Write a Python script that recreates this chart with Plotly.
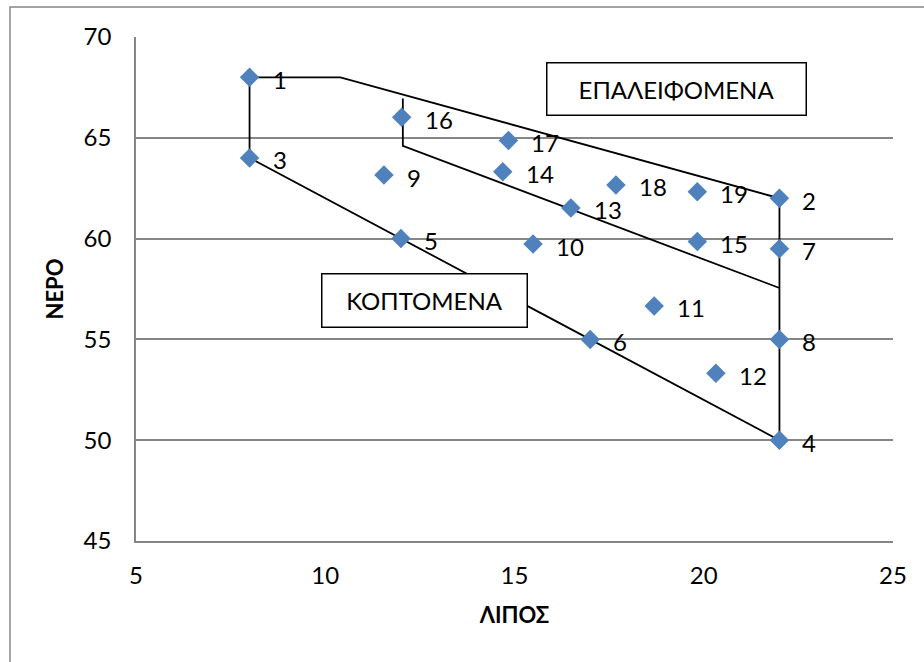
import plotly.graph_objects as go

# Samples: fat content (ΛΙΠΟΣ) vs water content (ΝΕΡΟ)
sample_ids = [str(i) for i in range(1, 20)]
fat = [8.0, 22.0, 8.0, 22.0, 12.0, 17.0, 22.0, 22.0, 11.55, 15.49,
       18.69, 20.32, 16.49, 14.69, 19.83, 12.02, 14.84, 17.68, 19.83]
water = [68.0, 62.0, 64.0, 50.0, 60.0, 55.0, 59.5, 55.0, 63.15, 59.73,
         56.66, 53.32, 61.52, 63.32, 59.85, 66.02, 64.86, 62.66, 62.33]

# Outline enclosing all samples
outline_x = [8.0, 8.0, 10.4, 22.0, 22.0, 8.0]
outline_y = [64.0, 68.0, 68.0, 62.0, 50.0, 64.0]

# Divider between the two product groups
divider_x = [12.05, 12.05, 22.0]
divider_y = [66.95, 64.6, 57.55]

group_labels = ["ΕΠΑΛΕΙΦΟΜΕΝΑ", "ΚΟΠΤΟΜΕΝΑ"]

x_ticks = [5, 10, 15, 20, 25]
y_ticks = [45, 50, 55, 60, 65, 70]

FONT = "Lato, Carlito, Calibri, sans-serif"
GRID = "#868686"
TXT = 24

fig = go.Figure()

fig.add_trace(go.Scatter(
    x=outline_x, y=outline_y, mode="lines",
    line=dict(color="black", width=1.8), hoverinfo="skip", showlegend=False,
))
fig.add_trace(go.Scatter(
    x=divider_x, y=divider_y, mode="lines",
    line=dict(color="black", width=1.8), hoverinfo="skip", showlegend=False,
))
fig.add_trace(go.Scatter(
    x=fat, y=water, mode="markers",
    marker=dict(symbol="diamond", size=15, color="#4F81BD",
                line=dict(width=0)),
    showlegend=False,
))

annotations = []
for xv, yv, lab in zip(fat, water, sample_ids):
    annotations.append(dict(
        x=xv, y=yv, xref="x", yref="y", text=lab, showarrow=False,
        xanchor="left", yanchor="middle", xshift=21, yshift=-2,
        font=dict(family=FONT, size=TXT, color="black"),
    ))

# Group name boxes
annotations.append(dict(
    x=19.28, y=67.42, xref="x", yref="y", text=group_labels[0], showarrow=False,
    xanchor="center", yanchor="middle", width=258, height=51,
    bgcolor="white", bordercolor="black", borderwidth=1.5, borderpad=0,
    font=dict(family=FONT, size=TXT, color="black"),
))
annotations.append(dict(
    x=12.62, y=56.93, xref="x", yref="y", text=group_labels[1], showarrow=False,
    xanchor="center", yanchor="middle", width=204, height=52,
    bgcolor="white", bordercolor="black", borderwidth=1.5, borderpad=0,
    font=dict(family=FONT, size=TXT, color="black"),
))

# Chart frame
L, R, T, B = 136, 893, 37, 541
pw, ph = R - L, B - T
shapes = [dict(
    type="rect", xref="paper", yref="paper", layer="below",
    x0=(10 - L) / pw, x1=(940 - L) / pw,
    y0=(B - 680) / ph, y1=(B - 7) / ph,
    line=dict(color=GRID, width=1.5), fillcolor="rgba(0,0,0,0)",
)]

fig.update_layout(
    width=924, height=662,
    margin=dict(l=L, r=924 - R, t=T, b=662 - B),
    paper_bgcolor="white", plot_bgcolor="white",
    font=dict(family=FONT, size=TXT, color="black"),
    annotations=annotations,
    shapes=shapes,
    xaxis=dict(
        range=[5, 25], tickvals=x_ticks, ticktext=[str(v) for v in x_ticks],
        showgrid=False, zeroline=False, showline=True, linecolor=GRID,
        linewidth=1.5, ticks="", ticklabelstandoff=12,
        tickfont=dict(family=FONT, size=TXT),
        title=dict(text="<b>ΛΙΠΟΣ</b>", font=dict(family=FONT, size=22),
                   standoff=20),
    ),
    yaxis=dict(
        range=[45, 70], tickvals=y_ticks, ticktext=[str(v) for v in y_ticks],
        showgrid=True, gridcolor=GRID, gridwidth=1.5, zeroline=False,
        showline=True, linecolor=GRID, linewidth=1.5, ticks="",
        ticklabelstandoff=18, tickfont=dict(family=FONT, size=TXT),
        title=dict(text="<b>ΝΕΡΟ</b>", font=dict(family=FONT, size=22),
                   standoff=14),
    ),
)

fig.write_html("out.html")
